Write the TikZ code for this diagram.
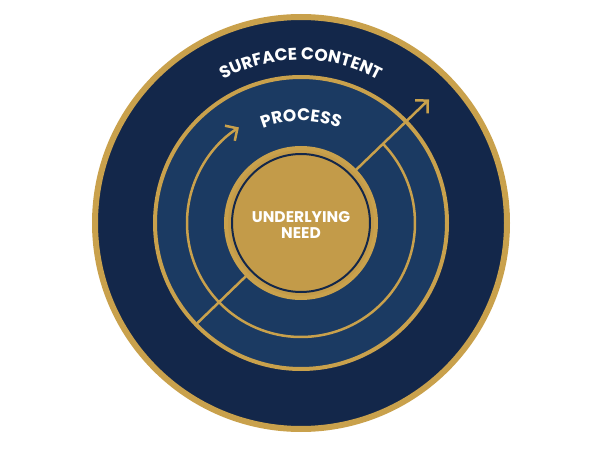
\documentclass[tikz,border=0pt]{standalone}
\usepackage{fontspec}
\setmainfont{Poppins}
\usetikzlibrary{calc,decorations.text,arrows.meta}

\definecolor{navy}{HTML}{13274A}
\definecolor{bandblue}{HTML}{1B3A62}
\definecolor{gold}{HTML}{C9A14C}
\definecolor{golddisk}{HTML}{C39B49}
\newcommand\ringfont{\bfseries\fontsize{17}{20}\selectfont}
\newcommand\needfont{\bfseries\fontsize{15.5}{18}\selectfont}

\begin{document}
\begin{tikzpicture}[x=1pt, y=1pt,
  goldline/.style={draw=gold, line width=2.5, line cap=round},
  barb/.style={-{Straight Barb[length=9pt, width=18pt, line width=2.5pt]}},
  arclabel/.style={decorate, decoration={text along path, text align=center,
    text color=white, text={|\ringfont|#1}}}
]
\useasboundingbox (0,0) rectangle (600,448);
\coordinate (c) at (301,225);

% bands
\fill[navy, draw=gold, line width=6] (c) circle (206);
\fill[bandblue, draw=gold, line width=4] (c) circle (146);

% arrows
\draw[goldline, barb] (c) ++(44:114) arc[start angle=44, end angle=-237, radius=114];
\coordinate (tail) at ($(c)+(224:144)$);
\coordinate (head) at ($(c)+(44:178)$);
\draw[goldline, barb] (tail) -- (head);

% centre
\fill[golddisk, draw=gold, line width=4] (c) circle (75);
\draw[navy, line width=2] (c) circle (69);
\node[text=white, font=\needfont, align=center, inner sep=0pt, yshift=-2pt] (need) at (c) {UNDERLYING\\[-2pt]NEED};

% labels
\path[arclabel={SURFACE CONTENT}] (c) ++(160:163) arc[start angle=160, end angle=20, radius=163];
\path[arclabel={PROCESS}] (c) ++(160:102) arc[start angle=160, end angle=20, radius=102];
\end{tikzpicture}
\end{document}
